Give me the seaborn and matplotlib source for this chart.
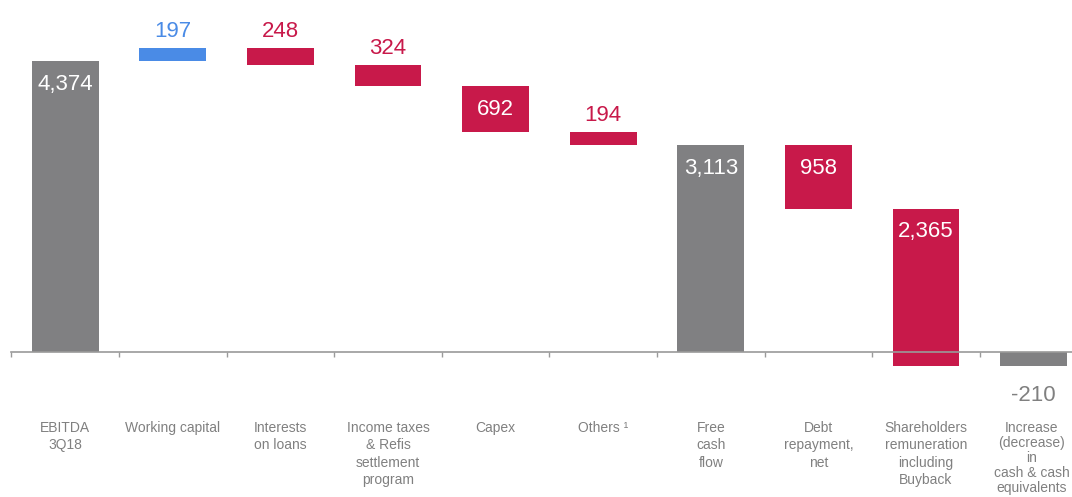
import matplotlib
matplotlib.use("Agg")
import matplotlib.pyplot as plt
import seaborn as sns
import pandas as pd

# Cash flow bridge, 3Q18 (millions)
categories = [
    "EBITDA\n3Q18",
    "Working capital",
    "Interests\non loans",
    "Income taxes\n& Refis\nsettlement\nprogram",
    "Capex",
    "Others \u00b9",
    "Free\ncash\nflow",
    "Debt\nrepayment,\nnet",
    "Shareholders\nremuneration\nincluding\nBuyback",
    "Increase\n(decrease)\nin\ncash & cash\nequivalents",
]
values = [4374, 197, -248, -324, -692, -194, 3113, -958, -2365, -210]
kinds = ["total", "flow", "flow", "flow", "flow", "flow", "total", "flow", "flow", "total"]

GRAY = "#808082"
RED = "#C8194A"
BLUE = "#4A8BE6"
TEXT_GRAY = "#808080"

# Running start of each bar: totals sit on zero, flows continue from the previous level
bottoms = []
level = 0
for v, k in zip(values, kinds):
    if k == "total":
        bottoms.append(0)
        level = v
    else:
        bottoms.append(level)
        level += v

colors = []
for v, k in zip(values, kinds):
    if k == "total":
        colors.append(GRAY)
    elif v >= 0:
        colors.append(BLUE)
    else:
        colors.append(RED)

df = pd.DataFrame({"category": categories, "value": values})

sns.set_theme(style="white")
plt.rcParams["font.family"] = ["Liberation Sans", "DejaVu Sans"]

fig = plt.figure(figsize=(10.72, 4.97), dpi=100)
ax = fig.add_axes([11.4 / 1072, 0, 1076 / 1072, 1])

sns.barplot(
    data=df, x="category", y="value", hue="category",
    palette=dict(zip(categories, colors)), order=categories,
    hue_order=categories, dodge=False, legend=False,
    width=0.62, saturation=1, ax=ax,
)

# Lift each flow bar to its running level
for patch, b in zip(ax.patches, bottoms):
    patch.set_y(b)
    patch.set_linewidth(0)

px = 0.06646  # pixels per unit on the value axis
ax.set_xlim(-0.5, len(categories) - 0.5)
ax.set_ylim(-145 / px, 352 / px)

for s in ["top", "left", "right"]:
    ax.spines[s].set_visible(False)
ax.spines["bottom"].set_position(("data", 0))
ax.spines["bottom"].set_color("#9A9A9A")
ax.spines["bottom"].set_linewidth(1.2)
ax.set_xticks([i - 0.5 for i in range(len(categories) + 1)])
ax.set_xticklabels([])
ax.tick_params(axis="x", direction="out", length=3.5, width=1.0,
               color="#9A9A9A", bottom=True)
ax.set_yticks([])
ax.set_xlabel("")
ax.set_ylabel("")

def fmt(v):
    return f"{v:,}"

for i, (v, k, b) in enumerate(zip(values, kinds, bottoms)):
    top = max(b, b + v)
    bot = min(b, b + v)
    height_px = abs(v) * px
    if k == "total" and v < 0:
        ax.annotate(fmt(v), xy=(i, bot), xytext=(0, -19), textcoords="offset pixels",
                    ha="center", va="top", fontsize=16, color=TEXT_GRAY)
    elif height_px > 40:
        ax.annotate(fmt(abs(v)), xy=(i, top), xytext=(0, -23), textcoords="offset pixels",
                    ha="center", va="center", fontsize=16, color="white")
    else:
        ax.annotate(fmt(abs(v)), xy=(i, top), xytext=(0, 6), textcoords="offset pixels",
                    ha="center", va="bottom", fontsize=16, color=colors[i])

last = len(categories) - 1
for i, c in enumerate(categories):
    # the five-line label at the right edge is set a little tighter so it stays on the canvas
    spacing = 1.08 if i == last else 1.3
    dx = -2 if i == last else 0
    ax.annotate(c, xy=(i, 0), xytext=(dx, -69), textcoords="offset pixels",
                ha="center", va="top", fontsize=10, color=TEXT_GRAY, linespacing=spacing)

fig.savefig("out.png", dpi=100)
